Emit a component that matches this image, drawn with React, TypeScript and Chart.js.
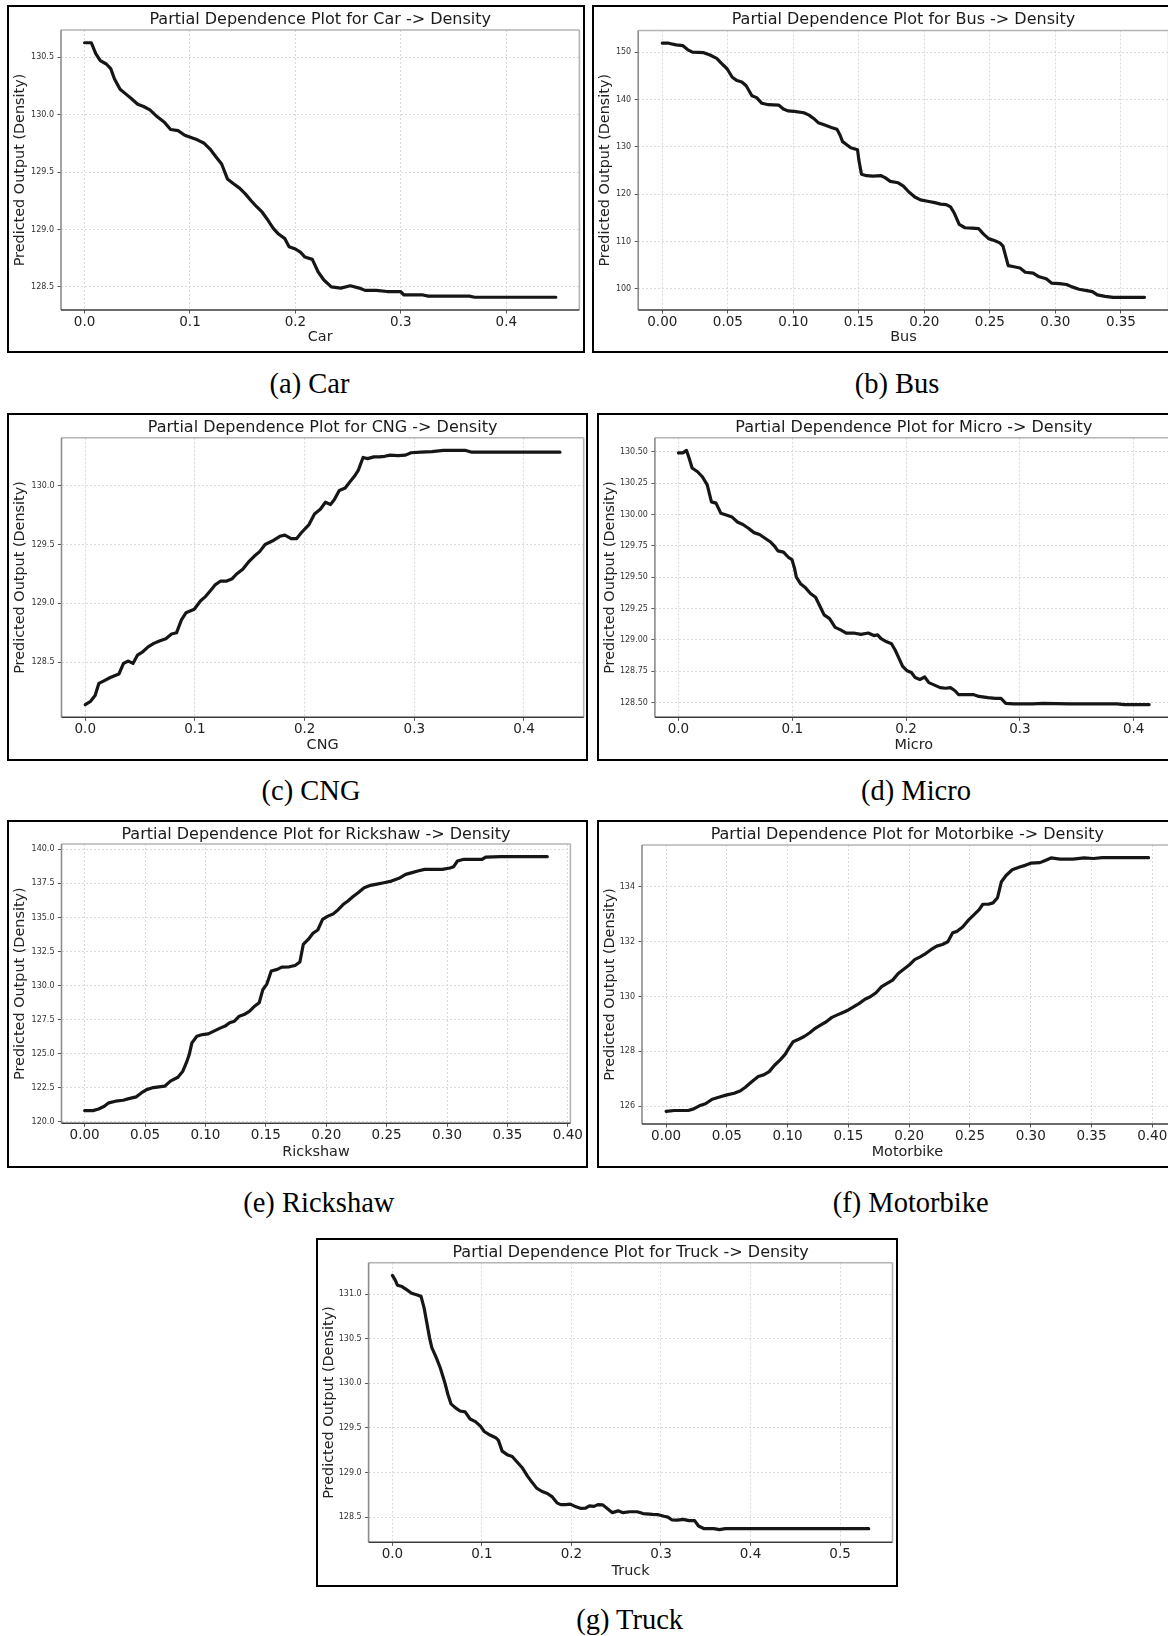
import React, { useEffect, useRef } from "react";
import { Chart, registerables } from "chart.js";

Chart.register(...registerables);

const FONT = "DejaVu Sans";

// ---------------- data ----------------
const carPoints: [number, number][] = [
  [0.0, 130.625], [0.0064, 130.625], [0.0106, 130.53], [0.0149, 130.47], [0.0206, 130.44], [0.0248, 130.4],
  [0.0284, 130.31], [0.0337, 130.22], [0.039, 130.18], [0.0443, 130.14], [0.0504, 130.09], [0.056, 130.07],
  [0.062, 130.04], [0.069, 129.98], [0.076, 129.93], [0.0816, 129.87], [0.0887, 129.86], [0.095, 129.82],
  [0.101, 129.8], [0.107, 129.78], [0.1135, 129.75], [0.119, 129.7], [0.124, 129.64], [0.13, 129.57],
  [0.1355, 129.44], [0.141, 129.4], [0.147, 129.36], [0.1525, 129.31], [0.158, 129.25], [0.163, 129.2],
  [0.1685, 129.15], [0.174, 129.08], [0.179, 129.01], [0.184, 128.96], [0.19, 128.92], [0.194, 128.85],
  [0.2, 128.83], [0.205, 128.8], [0.209, 128.76], [0.216, 128.74], [0.2216, 128.63], [0.227, 128.56],
  [0.234, 128.5], [0.243, 128.49], [0.252, 128.51], [0.2606, 128.49], [0.266, 128.47], [0.2766, 128.47],
  [0.287, 128.46], [0.296, 128.46], [0.2996, 128.46], [0.303, 128.43], [0.321, 128.43], [0.326, 128.42],
  [0.365, 128.42], [0.37, 128.41], [0.447, 128.41],
];

const busPoints: [number, number][] = [
  [0.0, 151.9], [0.0048, 151.9], [0.0105, 151.55], [0.0155, 151.4], [0.0195, 150.5], [0.023, 150.0],
  [0.0316, 149.9], [0.0364, 149.4], [0.0415, 148.7], [0.045, 147.7], [0.0494, 146.5], [0.0534, 144.7],
  [0.057, 144.0], [0.0607, 143.7], [0.064, 142.9], [0.0684, 140.8], [0.072, 140.4], [0.076, 139.2],
  [0.081, 138.9], [0.089, 138.8], [0.0924, 138.0], [0.0958, 137.6], [0.1008, 137.5], [0.108, 137.2],
  [0.112, 136.7], [0.1155, 136.0], [0.119, 135.1], [0.124, 134.6], [0.129, 134.1], [0.1333, 133.7],
  [0.1356, 132.5], [0.1376, 131.1], [0.14, 130.6], [0.1438, 129.8], [0.149, 129.4], [0.15, 127.2],
  [0.152, 124.2], [0.156, 123.9], [0.1607, 123.8], [0.167, 123.9], [0.17, 123.5], [0.174, 122.7],
  [0.18, 122.4], [0.184, 121.7], [0.188, 120.5], [0.1927, 119.4], [0.197, 118.8], [0.2025, 118.5],
  [0.208, 118.2], [0.2124, 117.9], [0.2167, 117.8], [0.22, 117.3], [0.223, 115.9], [0.2266, 113.6],
  [0.231, 112.9], [0.2364, 112.8], [0.2415, 112.7], [0.245, 111.6], [0.249, 110.6], [0.2534, 110.2],
  [0.2576, 109.7], [0.26, 109.0], [0.264, 104.9], [0.2675, 104.7], [0.273, 104.4], [0.277, 103.5],
  [0.283, 103.3], [0.287, 102.6], [0.293, 102.1], [0.297, 101.2], [0.303, 101.1], [0.3085, 100.9],
  [0.3127, 100.4], [0.318, 99.9], [0.324, 99.6], [0.3282, 99.4], [0.332, 98.7], [0.338, 98.4],
  [0.344, 98.2], [0.352, 98.2], [0.368, 98.2],
];

const cngPoints: [number, number][] = [
  [0.0, 128.14], [0.0045, 128.165], [0.009, 128.217], [0.0124, 128.32], [0.0166, 128.34], [0.0228, 128.37],
  [0.0307, 128.4], [0.0349, 128.49], [0.0393, 128.51], [0.0435, 128.49], [0.0476, 128.56], [0.052, 128.585],
  [0.0573, 128.63], [0.0625, 128.66], [0.0676, 128.68], [0.0735, 128.7], [0.0787, 128.74], [0.0832, 128.75],
  [0.0877, 128.86], [0.0918, 128.92], [0.0994, 128.95], [0.105, 129.02], [0.1098, 129.06], [0.1143, 129.11],
  [0.1187, 129.16], [0.1235, 129.19], [0.129, 129.19], [0.134, 129.21], [0.138, 129.25], [0.1436, 129.29],
  [0.1487, 129.35], [0.154, 129.4], [0.159, 129.44], [0.164, 129.5], [0.1705, 129.53], [0.1774, 129.57],
  [0.182, 129.58], [0.1877, 129.55], [0.1926, 129.55], [0.197, 129.6], [0.204, 129.67], [0.209, 129.76],
  [0.2143, 129.8], [0.219, 129.86], [0.2236, 129.84], [0.227, 129.88], [0.2316, 129.96], [0.237, 129.98],
  [0.241, 130.03], [0.2454, 130.08], [0.2489, 130.13], [0.2533, 130.24], [0.2575, 130.23], [0.263, 130.245],
  [0.268, 130.245], [0.273, 130.25], [0.278, 130.26], [0.285, 130.255], [0.292, 130.26], [0.297, 130.28],
  [0.306, 130.285], [0.316, 130.29], [0.3265, 130.3], [0.347, 130.3], [0.3524, 130.285], [0.371, 130.285],
  [0.4328, 130.285],
];

const microPoints: [number, number][] = [
  [0.0, 130.49], [0.0039, 130.49], [0.0071, 130.51], [0.0097, 130.44], [0.012, 130.37], [0.0168, 130.34],
  [0.021, 130.3], [0.0253, 130.235], [0.029, 130.1], [0.033, 130.09], [0.0372, 130.01], [0.042, 129.995],
  [0.047, 129.98], [0.0518, 129.94], [0.0567, 129.92], [0.0615, 129.89], [0.0664, 129.855], [0.0713, 129.84],
  [0.0761, 129.81], [0.081, 129.78], [0.0842, 129.75], [0.0874, 129.71], [0.0923, 129.7], [0.097, 129.655],
  [0.0998, 129.64], [0.102, 129.57], [0.1036, 129.5], [0.1075, 129.445], [0.1117, 129.415], [0.116, 129.37],
  [0.1205, 129.34], [0.1237, 129.28], [0.128, 129.2], [0.1328, 129.17], [0.1377, 129.1], [0.1425, 129.08],
  [0.1474, 129.055], [0.1539, 129.055], [0.1603, 129.045], [0.1668, 129.055], [0.1717, 129.035], [0.175, 129.04],
  [0.178, 129.01], [0.183, 128.985], [0.1872, 128.97], [0.1904, 128.92], [0.1937, 128.855], [0.197, 128.79],
  [0.2008, 128.755], [0.2047, 128.74], [0.208, 128.7], [0.2121, 128.685], [0.2164, 128.705], [0.22, 128.66],
  [0.225, 128.64], [0.23, 128.62], [0.2348, 128.615], [0.239, 128.62], [0.243, 128.595], [0.246, 128.565],
  [0.2526, 128.565], [0.259, 128.565], [0.264, 128.55], [0.272, 128.54], [0.2785, 128.535], [0.2834, 128.535],
  [0.2876, 128.495], [0.2947, 128.49], [0.311, 128.49], [0.3207, 128.495], [0.3433, 128.49], [0.3854, 128.49],
  [0.392, 128.485], [0.4136, 128.485],
];

const rickshawPoints: [number, number][] = [
  [0.0, 120.83], [0.0069, 120.83], [0.0116, 120.95], [0.0163, 121.15], [0.02, 121.4], [0.0256, 121.52],
  [0.0319, 121.59], [0.0366, 121.71], [0.0428, 121.84], [0.0469, 122.13], [0.0513, 122.37], [0.0569, 122.52],
  [0.0663, 122.62], [0.071, 122.99], [0.0772, 123.28], [0.0813, 123.72], [0.0844, 124.38], [0.0866, 124.94],
  [0.0888, 125.8], [0.0929, 126.29], [0.0976, 126.41], [0.1023, 126.46], [0.107, 126.66], [0.1126, 126.9],
  [0.1163, 127.03], [0.12, 127.27], [0.124, 127.39], [0.128, 127.76], [0.132, 127.88], [0.1366, 128.13],
  [0.1407, 128.49], [0.1445, 128.74], [0.1476, 129.72], [0.1507, 130.09], [0.1545, 131.07], [0.1595, 131.19],
  [0.1632, 131.36], [0.1695, 131.38], [0.1742, 131.48], [0.1782, 131.73], [0.181, 133.02], [0.1851, 133.39],
  [0.1889, 133.83], [0.193, 134.08], [0.197, 134.86], [0.2014, 135.1], [0.2061, 135.28], [0.2101, 135.59],
  [0.2148, 136.01], [0.218, 136.21], [0.222, 136.52], [0.2264, 136.82], [0.2314, 137.18], [0.2367, 137.36],
  [0.242, 137.45], [0.2477, 137.55], [0.254, 137.67], [0.2602, 137.87], [0.2658, 138.16], [0.2711, 138.29],
  [0.2758, 138.41], [0.2814, 138.53], [0.2883, 138.53], [0.2961, 138.53], [0.3024, 138.63], [0.3055, 138.73],
  [0.3086, 139.14], [0.3133, 139.26], [0.3196, 139.26], [0.329, 139.26], [0.332, 139.43], [0.3446, 139.46],
  [0.383, 139.46],
];

const motorbikePoints: [number, number][] = [
  [0.0, 125.81], [0.0067, 125.84], [0.0182, 125.84], [0.0227, 125.9], [0.0273, 126.01], [0.0324, 126.085],
  [0.0379, 126.25], [0.044, 126.33], [0.05, 126.41], [0.056, 126.47], [0.0612, 126.56], [0.0652, 126.69],
  [0.0697, 126.86], [0.0758, 127.08], [0.0803, 127.14], [0.0848, 127.26], [0.0894, 127.5], [0.0939, 127.69],
  [0.0979, 127.89], [0.1009, 128.11], [0.1045, 128.35], [0.1091, 128.44], [0.1136, 128.54], [0.1182, 128.68],
  [0.1227, 128.84], [0.127, 128.96], [0.1318, 129.08], [0.1364, 129.24], [0.1409, 129.33], [0.1455, 129.42],
  [0.15, 129.51], [0.1545, 129.63], [0.159, 129.75], [0.1636, 129.9], [0.168, 129.99], [0.1727, 130.14],
  [0.1773, 130.36], [0.1818, 130.48], [0.1864, 130.6], [0.191, 130.84], [0.1955, 131.0], [0.2, 131.15],
  [0.2045, 131.35], [0.209, 131.45], [0.2136, 131.57], [0.2182, 131.72], [0.2227, 131.84], [0.2273, 131.9],
  [0.2318, 132.0], [0.2358, 132.33], [0.2394, 132.38], [0.244, 132.54], [0.2485, 132.78], [0.253, 132.97],
  [0.2576, 133.17], [0.2606, 133.37], [0.2652, 133.37], [0.269, 133.42], [0.2727, 133.61], [0.2758, 134.18],
  [0.2797, 134.42], [0.2848, 134.63], [0.2909, 134.73], [0.2955, 134.79], [0.3, 134.87], [0.3076, 134.89],
  [0.312, 134.97], [0.3167, 135.06], [0.3242, 135.02], [0.3348, 135.02], [0.344, 135.06], [0.3515, 135.04],
  [0.359, 135.07], [0.397, 135.07],
];

const truckPoints: [number, number][] = [
  [0.0, 131.21], [0.003, 131.16], [0.0056, 131.1], [0.0107, 131.085], [0.0158, 131.05], [0.0214, 131.01],
  [0.0278, 130.99], [0.032, 130.975], [0.0355, 130.84], [0.0385, 130.675], [0.0415, 130.51], [0.044, 130.4],
  [0.0491, 130.285], [0.0534, 130.175], [0.0585, 130.01], [0.062, 129.875], [0.0654, 129.77], [0.0705, 129.725],
  [0.0756, 129.69], [0.0812, 129.68], [0.0868, 129.6], [0.0927, 129.57], [0.0983, 129.52], [0.1026, 129.46],
  [0.109, 129.42], [0.1154, 129.39], [0.1184, 129.36], [0.1226, 129.24], [0.1282, 129.2], [0.1338, 129.18],
  [0.139, 129.12], [0.1453, 129.05], [0.1509, 128.96], [0.156, 128.89], [0.1611, 128.825], [0.1667, 128.79],
  [0.1731, 128.765], [0.1782, 128.73], [0.1838, 128.66], [0.188, 128.64], [0.1936, 128.64], [0.1987, 128.645],
  [0.2051, 128.615], [0.2107, 128.597], [0.2158, 128.6], [0.22, 128.626], [0.2252, 128.62], [0.2295, 128.64],
  [0.235, 128.637], [0.2406, 128.59], [0.2457, 128.55], [0.2521, 128.57], [0.2577, 128.55], [0.265, 128.56],
  [0.2735, 128.56], [0.2799, 128.54], [0.2906, 128.53], [0.297, 128.527], [0.3034, 128.51], [0.3077, 128.5],
  [0.312, 128.47], [0.3184, 128.467], [0.3248, 128.475], [0.3312, 128.46], [0.3376, 128.46], [0.3419, 128.4],
  [0.3483, 128.37], [0.359, 128.37], [0.3654, 128.36], [0.3718, 128.37], [0.3996, 128.37], [0.4637, 128.37],
  [0.532, 128.37],
];

// tick labels
const xTicks1 = ["0.0", "0.1", "0.2", "0.3", "0.4"];
const xTicks2 = ["0.00", "0.05", "0.10", "0.15", "0.20", "0.25", "0.30", "0.35"];
const xTicks3 = ["0.00", "0.05", "0.10", "0.15", "0.20", "0.25", "0.30", "0.35", "0.40"];
const xTicksTruck = ["0.0", "0.1", "0.2", "0.3", "0.4", "0.5"];
const carYTicks = ["128.5", "129.0", "129.5", "130.0", "130.5"];
const busYTicks = ["100", "110", "120", "130", "140", "150"];
const cngYTicks = ["128.5", "129.0", "129.5", "130.0"];
const microYTicks = ["128.50", "128.75", "129.00", "129.25", "129.50", "129.75", "130.00", "130.25", "130.50"];
const rickshawYTicks = ["120.0", "122.5", "125.0", "127.5", "130.0", "132.5", "135.0", "137.5", "140.0"];
const motorbikeYTicks = ["126", "128", "130", "132", "134"];
const truckYTicks = ["128.5", "129.0", "129.5", "130.0", "130.5", "131.0"];

// ---------------- layout ----------------
type Spec = {
  name: string;
  letter: string;
  points: [number, number][];
  xTicks: string[];
  yTicks: string[];
  box: [number, number, number, number]; // l t r b
  plot: [number, number, number, number];
  cap: [number, number];
};

const specs: Spec[] = [
  { name: "Car", letter: "a", points: carPoints, xTicks: xTicks1, yTicks: carYTicks,
    box: [7, 5, 585, 353], plot: [61, 30, 579.4, 310], cap: [309.5, 386.5] },
  { name: "Bus", letter: "b", points: busPoints, xTicks: xTicks2, yTicks: busYTicks,
    box: [592, 5, 1176, 353], plot: [638.2, 30.5, 1168.6, 310], cap: [897, 386.5] },
  { name: "CNG", letter: "c", points: cngPoints, xTicks: xTicks1, yTicks: cngYTicks,
    box: [7, 413, 588, 761], plot: [61.5, 437.7, 583.7, 717.3], cap: [311, 793.5] },
  { name: "Micro", letter: "d", points: microPoints, xTicks: xTicks1, yTicks: microYTicks,
    box: [597, 413, 1180, 761], plot: [654.9, 437.7, 1172.7, 717.3], cap: [916, 793.5] },
  { name: "Rickshaw", letter: "e", points: rickshawPoints, xTicks: xTicks3, yTicks: rickshawYTicks,
    box: [7, 820, 588, 1168], plot: [61.5, 844, 570.4, 1123.3], cap: [318.8, 1205] },
  { name: "Motorbike", letter: "f", points: motorbikePoints, xTicks: xTicks3, yTicks: motorbikeYTicks,
    box: [597, 820, 1180, 1168], plot: [642, 845, 1172.7, 1124], cap: [910.7, 1205] },
  { name: "Truck", letter: "g", points: truckPoints, xTicks: xTicksTruck, yTicks: truckYTicks,
    box: [316, 1238, 898, 1587], plot: [368.6, 1262.7, 892.5, 1542.3], cap: [629.6, 1622.5] },
];

const TITLE_SIZE = 16;
const TITLE_CENTER = 15.2;
const XTICK_SIZE = 13.5;
const YTICK_SIZE = 8;
const LABEL_SIZE = 14.4;

const spinePlugin = {
  id: "spines",
  afterDraw(chart: any) {
    const { ctx, chartArea: a } = chart;
    ctx.save();
    ctx.lineWidth = 1.6;
    const seg = (c: string, x1: number, y1: number, x2: number, y2: number) => {
      ctx.strokeStyle = c;
      ctx.beginPath();
      ctx.moveTo(x1, y1);
      ctx.lineTo(x2, y2);
      ctx.stroke();
    };
    seg("#b4b4b4", a.left, a.top, a.right, a.top);
    seg("#b4b4b4", a.right, a.top, a.right, a.bottom);
    seg("#8c8c8c", a.left, a.top, a.left, a.bottom);
    seg("#3c3c3c", a.left, a.bottom, a.right, a.bottom);
    ctx.restore();
  },
};

function range(vals: number[]): [number, number] {
  const lo = Math.min(...vals);
  const hi = Math.max(...vals);
  const m = (hi - lo) * 0.05;
  return [lo - m, hi + m];
}

function Panel({ s }: { s: Spec }) {
  const ref = useRef<HTMLCanvasElement | null>(null);
  const [bl, bt, br, bb] = s.box;
  const W = br - bl;
  const H = bb - bt;
  useEffect(() => {
    if (!ref.current) return;
    const [pl, pt, pr, pb] = s.plot;
    const [xmin, xmax] = range(s.points.map((p) => p[0]));
    const [ymin, ymax] = range(s.points.map((p) => p[1]));
    const titleLH = TITLE_SIZE * 1.2;
    const labelLH = LABEL_SIZE * 1.2;
    const gridOpts = {
      color: "#d9d9d9",
      lineWidth: 1,
      tickLength: 3.5,
      tickColor: "#555",
      tickWidth: 1,
      tickBorderDash: [],
    };
    const chart = new Chart(ref.current, {
      type: "line",
      data: {
        datasets: [
          {
            data: s.points.map((p) => ({ x: p[0], y: p[1] })),
            borderColor: "#161616",
            borderWidth: 3.2,
            pointRadius: 0,
            tension: 0,
            fill: false,
            borderJoinStyle: "round",
            borderCapStyle: "round",
          } as any,
        ],
      },
      options: {
        animation: false,
        responsive: false,
        maintainAspectRatio: false,
        events: [],
        layout: { padding: { left: 0, top: 0, right: br - pr, bottom: 0 } },
        plugins: {
          legend: { display: false },
          tooltip: { enabled: false },
          title: {
            display: true,
            text: `Partial Dependence Plot for ${s.name} -> Density`,
            fullSize: false,
            color: "#1a1a1a",
            font: { family: FONT, size: TITLE_SIZE, weight: "normal" },
            padding: { top: TITLE_CENTER - titleLH / 2, bottom: pt - bt - TITLE_CENTER - titleLH / 2 },
          },
        },
        scales: {
          x: {
            type: "linear",
            min: xmin,
            max: xmax,
            afterBuildTicks: (sc: any) => {
              sc.ticks = s.xTicks.map((t) => ({ value: parseFloat(t) }));
            },
            afterFit: (sc: any) => {
              sc.height = bb - pb;
            },
            ticks: {
              autoSkip: false,
              maxRotation: 0,
              minRotation: 0,
              includeBounds: false,
              padding: 1,
              color: "#222",
              font: { family: FONT, size: XTICK_SIZE },
              callback: (_v: any, i: number) => s.xTicks[i],
            },
            grid: gridOpts,
            border: { display: false, dash: [2, 2] },
            title: {
              display: true,
              text: s.name,
              color: "#222",
              font: { family: FONT, size: LABEL_SIZE },
              padding: { top: 0, bottom: 15.3 - labelLH / 2 },
            },
          },
          y: {
            type: "linear",
            min: ymin,
            max: ymax,
            afterBuildTicks: (sc: any) => {
              sc.ticks = s.yTicks.map((t) => ({ value: parseFloat(t) }));
            },
            afterFit: (sc: any) => {
              sc.width = pl - bl;
            },
            ticks: {
              autoSkip: false,
              includeBounds: false,
              padding: 3.5,
              color: "#333",
              font: { family: FONT, size: YTICK_SIZE },
              callback: (_v: any, i: number) => s.yTicks[i],
            },
            grid: gridOpts,
            border: { display: false, dash: [2, 2] },
            title: {
              display: true,
              text: "Predicted Output (Density)",
              color: "#222",
              font: { family: FONT, size: LABEL_SIZE },
              padding: { top: 13.3 - labelLH / 2, bottom: 0 },
            },
          },
        },
      } as any,
      plugins: [spinePlugin],
    });
    return () => chart.destroy();
  }, []);

  return (
    <>
      <div style={{ position: "absolute", left: bl, top: bt, width: W, height: H }}>
        <canvas ref={ref} width={W} height={H} style={{ width: W, height: H, display: "block" }} />
        <div
          style={{
            position: "absolute",
            left: 0,
            top: 0,
            width: W,
            height: H,
            border: "2px solid #000",
            boxSizing: "border-box",
            pointerEvents: "none",
          }}
        />
      </div>
      <div
        style={{
          position: "absolute",
          left: s.cap[0] - 150,
          top: s.cap[1] + 7 - 23.5,
          width: 300,
          textAlign: "center",
          fontFamily: "'Liberation Serif', 'Times New Roman', serif",
          fontSize: 28.5,
          lineHeight: "28px",
          color: "#000",
          whiteSpace: "nowrap",
        }}
      >
        ({s.letter}) {s.name}
      </div>
    </>
  );
}

export default function App() {
  return (
    <div
      style={{
        position: "absolute",
        left: 0,
        top: 0,
        width: 1168,
        height: 1636,
        overflow: "hidden",
        background: "#fff",
      }}
    >
      {specs.map((s) => (
        <Panel key={s.letter} s={s} />
      ))}
    </div>
  );
}
